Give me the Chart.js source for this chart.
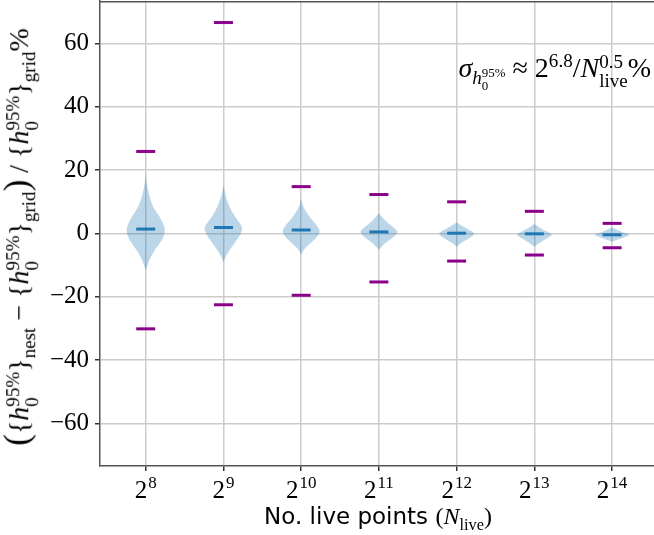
<!DOCTYPE html>
<html>
<head>
<meta charset="utf-8">
<script src="https://cdn.jsdelivr.net/npm/chart.js@4.4.1/dist/chart.umd.min.js"></script>
<style>
  body { margin: 0; background: #fff; }
  #wrap { position: relative; width: 654px; height: 535px; overflow: hidden; }
  #chart { position: absolute; left: 0; top: 0; }
  .txt { position: absolute; font-family: 'Liberation Serif', serif; color: #000; white-space: nowrap; line-height: 1; }
  .ss { display: inline-flex; flex-direction: column; vertical-align: middle; font-size: 0.68em; line-height: 1; text-align: left; }
  sub, sup { font-size: 0.68em; line-height: 0; }
  .big { font-size: 1.25em; }
  #ylab { left: 20px; top: 237px; font-size: 28px; transform: translate(-50%, -50%) rotate(-90deg); }
  #xlab { left: 378px; top: 516px; font-size: 24px; transform: translate(-50%, -50%); }
  #xlab .sans { font-family: 'DejaVu Sans', sans-serif; font-size: 23px; }
  #note { right: 3px; top: 52px; font-size: 28px; }
</style>
</head>
<body>
<div id="wrap">
  <canvas id="chart" width="654" height="535"></canvas>
  <div class="txt" id="ylab"><span class="big">(</span>{<i>h</i><span class="ss"><span>95%</span><span>0</span></span>}<sub>nest</sub> − {<i>h</i><span class="ss"><span>95%</span><span>0</span></span>}<sub>grid</sub><span class="big">)</span> / {<i>h</i><span class="ss"><span>95%</span><span>0</span></span>}<sub>grid</sub>%</div>
  <div class="txt" id="xlab"><span class="sans">No. live points </span>(<i>N</i><sub>live</sub>)</div>
  <div class="txt" id="note"><i>σ</i><sub><i>h</i><span class="ss"><span>95%</span><span>0</span></span></sub> ≈ 2<sup>6.8</sup>/<i>N</i><span class="ss"><span>0.5</span><span>live</span></span>%</div>
</div>
<script>
// x positions are log2 of the number of live points
const xExponents = [8, 9, 10, 11, 12, 13, 14];
const yTicks = [-60, -40, -20, 0, 20, 40, 60];

const means = [1.4, 1.9, 1.1, 0.5, 0.1, -0.1, -0.4];
const maxima = [25.9, 66.6, 14.8, 12.3, 10.0, 7.0, 3.2];
const minima = [-30.1, -22.5, -19.5, -15.3, -8.7, -6.8, -4.5];

// violin outlines: y levels and relative half widths (1 = widest)
const violinY = [
  [19, 16, 12.6, 8.4, 5.2, 2.1, 0.5, -2.1, -4.7, -7.4, -9.5, -11.6],
  [15.5, 13, 10.5, 7.4, 4.7, 2.1, 0, -2.6, -5.3, -7.4, -9.0],
  [11, 9, 7.4, 4.7, 2.6, 0.5, -1.6, -3.7, -5.3, -6.8],
  [6.5, 3.7, 1.6, 0.3, -1.6, -3.2, -5.1],
  [3.5, 1.6, 0, -1.6, -3.2, -4.2],
  [3, 1.0, -0.3, -1.8, -3.2, -4.2],
  [2, 0.5, -0.3, -1.4, -2.6]
];
const violinW = [
  [0, 0.04, 0.15, 0.36, 0.74, 0.97, 1.0, 0.85, 0.52, 0.25, 0.12, 0],
  [0, 0.06, 0.17, 0.39, 0.65, 1.0, 0.91, 0.63, 0.3, 0.11, 0],
  [0, 0.07, 0.2, 0.48, 0.82, 1.0, 0.75, 0.35, 0.1, 0],
  [0, 0.35, 0.83, 1.0, 0.67, 0.28, 0],
  [0, 0.5, 1.0, 0.63, 0.17, 0],
  [0, 0.49, 1.0, 0.57, 0.19, 0],
  [0, 0.45, 1.0, 0.53, 0]
];
const halfWidth = 0.25;
const serif = '"Liberation Serif", "DejaVu Serif", serif';

const ctx = document.getElementById('chart').getContext('2d');

const violins = {
  id: 'violins',
  beforeDatasetsDraw(chart) {
    const { ctx, scales: { x, y } } = chart;
    ctx.save();
    ctx.fillStyle = 'rgba(31, 119, 180, 0.3)';
    xExponents.forEach((e, i) => {
      const ys = violinY[i], ws = violinW[i];
      const pts = [];
      ys.forEach((v, k) => pts.push([x.getPixelForValue(e + ws[k] * halfWidth), y.getPixelForValue(v)]));
      for (let k = ys.length - 1; k >= 0; k--) {
        pts.push([x.getPixelForValue(e - ws[k] * halfWidth), y.getPixelForValue(ys[k])]);
      }
      // smooth closed curve through midpoints
      const n = pts.length;
      const mid = (a, b) => [(a[0] + b[0]) / 2, (a[1] + b[1]) / 2];
      ctx.beginPath();
      let m = mid(pts[n - 1], pts[0]);
      ctx.moveTo(m[0], m[1]);
      for (let k = 0; k < n; k++) {
        const p = pts[k], q = pts[(k + 1) % n];
        m = mid(p, q);
        ctx.quadraticCurveTo(p[0], p[1], m[0], m[1]);
      }
      ctx.closePath();
      ctx.fill();
    });
    ctx.restore();
  }
};

const frameAndTicks = {
  id: 'frameAndTicks',
  afterDraw(chart) {
    const { ctx, chartArea, scales: { x } } = chart;
    ctx.save();
    // top spine
    ctx.strokeStyle = '#555';
    ctx.lineWidth = 1.5;
    ctx.beginPath();
    ctx.moveTo(chartArea.left, chartArea.top + 0.75);
    ctx.lineTo(chartArea.right, chartArea.top + 0.75);
    ctx.stroke();
    // x tick labels as powers of two
    ctx.fillStyle = '#000';
    ctx.textAlign = 'left';
    ctx.textBaseline = 'alphabetic';
    const base = x.top + 32;
    xExponents.forEach(e => {
      const px = x.getPixelForValue(e);
      ctx.font = '25px ' + serif;
      const wb = ctx.measureText('2').width;
      ctx.font = '17px ' + serif;
      const we = ctx.measureText(String(e)).width;
      const x0 = px - (wb + we + 1) / 2;
      ctx.font = '25px ' + serif;
      ctx.fillText('2', x0, base);
      ctx.font = '17px ' + serif;
      ctx.fillText(String(e), x0 + wb + 1, base - 10);
    });
    ctx.restore();
  }
};

const pts = arr => xExponents.map((e, i) => ({ x: e, y: arr[i] }));

const chart = new Chart(ctx, {
  type: 'scatter',
  data: {
    datasets: [
      { label: 'mean', data: pts(means), pointStyle: 'line', pointRadius: 9.5, borderColor: '#1f77b4', borderWidth: 3 },
      { label: 'max', data: pts(maxima), pointStyle: 'line', pointRadius: 9.5, borderColor: '#8b008b', borderWidth: 3 },
      { label: 'min', data: pts(minima), pointStyle: 'line', pointRadius: 9.5, borderColor: '#8b008b', borderWidth: 3 }
    ]
  },
  options: {
    responsive: false,
    animation: false,
    layout: { autoPadding: false, padding: { top: 1, right: 0, bottom: 0, left: 0 } },
    plugins: { legend: { display: false }, tooltip: { enabled: false } },
    scales: {
      x: {
        type: 'linear',
        min: 7.412,
        max: 14.539,
        afterBuildTicks: s => { s.ticks = xExponents.map(v => ({ value: v })); },
        afterFit: s => { s.height = 69; s.paddingLeft = 0; s.paddingRight = 0; },
        ticks: { display: false },
        grid: { color: '#cccccc', lineWidth: 1.5, tickColor: '#333', tickLength: 5 },
        border: { color: '#555', width: 1.5 }
      },
      y: {
        min: -73.4,
        max: 73.4,
        afterBuildTicks: s => { s.ticks = yTicks.map(v => ({ value: v })); },
        afterFit: s => { s.width = 100; s.paddingTop = 0; s.paddingBottom = 0; },
        ticks: {
          padding: 6,
          color: '#000',
          font: { family: serif, size: 25 },
          callback: v => v < 0 ? '\u2212' + (-v) : String(v)
        },
        grid: { color: '#cccccc', lineWidth: 1.5, tickColor: '#333', tickLength: 5 },
        border: { color: '#555', width: 1.5 }
      }
    }
  },
  plugins: [violins, frameAndTicks]
});

// redraw once the serif face is ready for the canvas
document.fonts.load('25px "Liberation Serif"').then(() => chart.update());
</script>
</body>
</html>
